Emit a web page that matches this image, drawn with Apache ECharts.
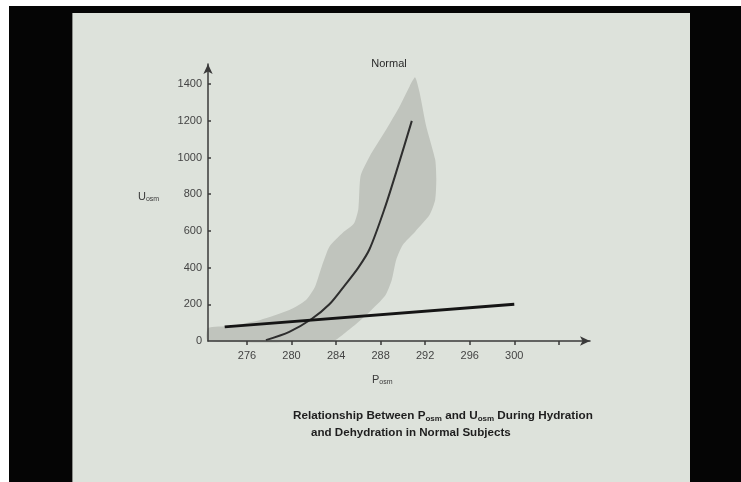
<!DOCTYPE html>
<html>
<head>
<meta charset="utf-8">
<script src="https://cdn.jsdelivr.net/npm/echarts@6/dist/echarts.min.js"></script>
<style>
  html, body { margin: 0; padding: 0; background: #fff; }
  #frame { position: absolute; left: 9px; top: 6px; width: 732px; height: 476px; background: #050505; }
  #slide { position: absolute; left: 72px; top: 13px; width: 618px; height: 469px; background: #dde2db; border-left: 1px solid #8a8c88; box-sizing: border-box; }
  #chart { position: absolute; left: 0; top: 0; width: 741px; height: 482px; }
</style>
</head>
<body>
<div id="frame"></div>
<div id="slide"></div>
<div id="chart"></div>
<script>
// tick positions
const xTicks = [276, 280, 284, 288, 292, 296, 300, 304]
const xLabels = [276, 280, 284, 288, 292, 296, 300]
const yTicks = [200, 400, 600, 800, 1000, 1200, 1400]
const yLabels = [0, 200, 400, 600, 800, 1000, 1200, 1400]

// straight thick line
const flatX = [274, 300]
const flatY = [77, 200]

// "Normal" curve
const curveX = [277.7, 279.8, 281.8, 283.4, 284.8, 286, 287, 288.4, 289.6, 290.8]
const curveY = [5, 50, 120, 200, 305, 400, 500, 730, 960, 1200]

// shaded range (outline, clockwise)
const bandX = [272.5, 272.5, 274.5, 277.2, 279.8, 281.3, 282.1, 282.7, 283.4, 284.6, 285.6, 286.0, 286.2,
  287.0, 288.5, 289.7, 290.6, 291.1, 291.5, 292.1, 292.9, 293.0, 292.9, 292.4, 291.1, 290.0, 289.4,
  289.0, 288.4, 287.0, 285.9, 284.8, 283.7]
const bandY = [0, 71, 82, 115, 169, 224, 295, 404, 514, 590, 640, 720, 900,
  1005, 1153, 1279, 1388, 1437, 1355, 1169, 989, 880, 770, 688, 596, 525, 443,
  333, 246, 158, 98, 44, 0]

const chart = echarts.init(document.getElementById('chart'))

const axisColor = '#3a3a3a'
const labelStyle = { fontSize: 11, color: '#444', fontFamily: 'Liberation Sans', formatter: v => String(v) }

const option = {
  animation: false,
  backgroundColor: 'transparent',
  grid: { left: 208, top: 64, right: 151, bottom: 141, containLabel: false, outerBoundsMode: 'none' },
  xAxis: {
    type: 'value',
    min: 272.5,
    max: 306.8,
    z: 5,
    axisLine: { show: true, onZero: false, symbol: ['none', 'arrow'], symbolSize: [7, 10], lineStyle: { color: axisColor, width: 1.5 } },
    axisTick: { show: true, customValues: xTicks, length: 4, lineStyle: { color: axisColor, width: 1.5 } },
    axisLabel: { customValues: xLabels, margin: 9, ...labelStyle },
    splitLine: { show: false }
  },
  yAxis: {
    type: 'value',
    min: 0,
    max: 1510,
    z: 5,
    axisLine: { show: true, onZero: false, symbol: ['none', 'arrow'], symbolSize: [7, 10], lineStyle: { color: axisColor, width: 1.5 } },
    axisTick: { show: true, inside: true, customValues: yTicks, length: 3, lineStyle: { color: axisColor, width: 1.5 } },
    axisLabel: { customValues: yLabels, margin: 6, ...labelStyle },
    splitLine: { show: false }
  },
  series: [
    {
      type: 'custom',
      z: 1,
      silent: true,
      data: bandX.map((x, i) => [x, bandY[i]]),
      renderItem: (params, api) => {
        if (params.dataIndex !== 0) return
        const pts = bandX.map((x, i) => api.coord([x, bandY[i]]))
        return {
          type: 'polygon',
          shape: { points: pts, smooth: 0.2 },
          style: { fill: '#c0c4bd' }
        }
      }
    },
    {
      type: 'line',
      z: 3,
      data: curveX.map((x, i) => [x, curveY[i]]),
      smooth: 0.3,
      showSymbol: false,
      lineStyle: { color: '#2e2e2e', width: 2 }
    },
    {
      type: 'line',
      z: 4,
      data: flatX.map((x, i) => [x, flatY[i]]),
      showSymbol: false,
      lineStyle: { color: '#151515', width: 3 }
    }
  ],
  graphic: [
    {
      type: 'text', x: 389, y: 64,
      style: { text: 'Normal', align: 'center', verticalAlign: 'middle', fontSize: 11, fill: '#2a2a2a', fontFamily: 'Liberation Sans' }
    },
    {
      type: 'text', x: 138, y: 197,
      style: {
        text: '{a|U}{s|osm}', verticalAlign: 'middle',
        rich: {
          a: { fontSize: 11, fill: '#3a3a3a', fontFamily: 'Liberation Sans' },
          s: { fontSize: 7, fill: '#3a3a3a', fontFamily: 'Liberation Sans', padding: [5, 0, 0, 0] }
        }
      }
    },
    {
      type: 'text', x: 372, y: 380,
      style: {
        text: '{a|P}{s|osm}', verticalAlign: 'middle',
        rich: {
          a: { fontSize: 11, fill: '#3a3a3a', fontFamily: 'Liberation Sans' },
          s: { fontSize: 7, fill: '#3a3a3a', fontFamily: 'Liberation Sans', padding: [5, 0, 0, 0] }
        }
      }
    },
    {
      type: 'text', x: 293, y: 416,
      style: {
        text: '{a|Relationship Between P}{s|osm}{a| and U}{s|osm}{a| During Hydration}', verticalAlign: 'middle',
        rich: {
          a: { fontSize: 11.7, fontWeight: 'bold', fill: '#1e1e1e', fontFamily: 'Liberation Sans' },
          s: { fontSize: 8, fontWeight: 'bold', fill: '#1e1e1e', fontFamily: 'Liberation Sans', padding: [5, 0, 0, 0] }
        }
      }
    },
    {
      type: 'text', x: 311, y: 433,
      style: { text: 'and Dehydration in Normal Subjects', verticalAlign: 'middle', fontSize: 11.6, fontWeight: 'bold', fill: '#1e1e1e', fontFamily: 'Liberation Sans' }
    }
  ]
}

chart.setOption(option)

window.addEventListener('resize', () => {
  chart.resize()
})
</script>
</body>
</html>
